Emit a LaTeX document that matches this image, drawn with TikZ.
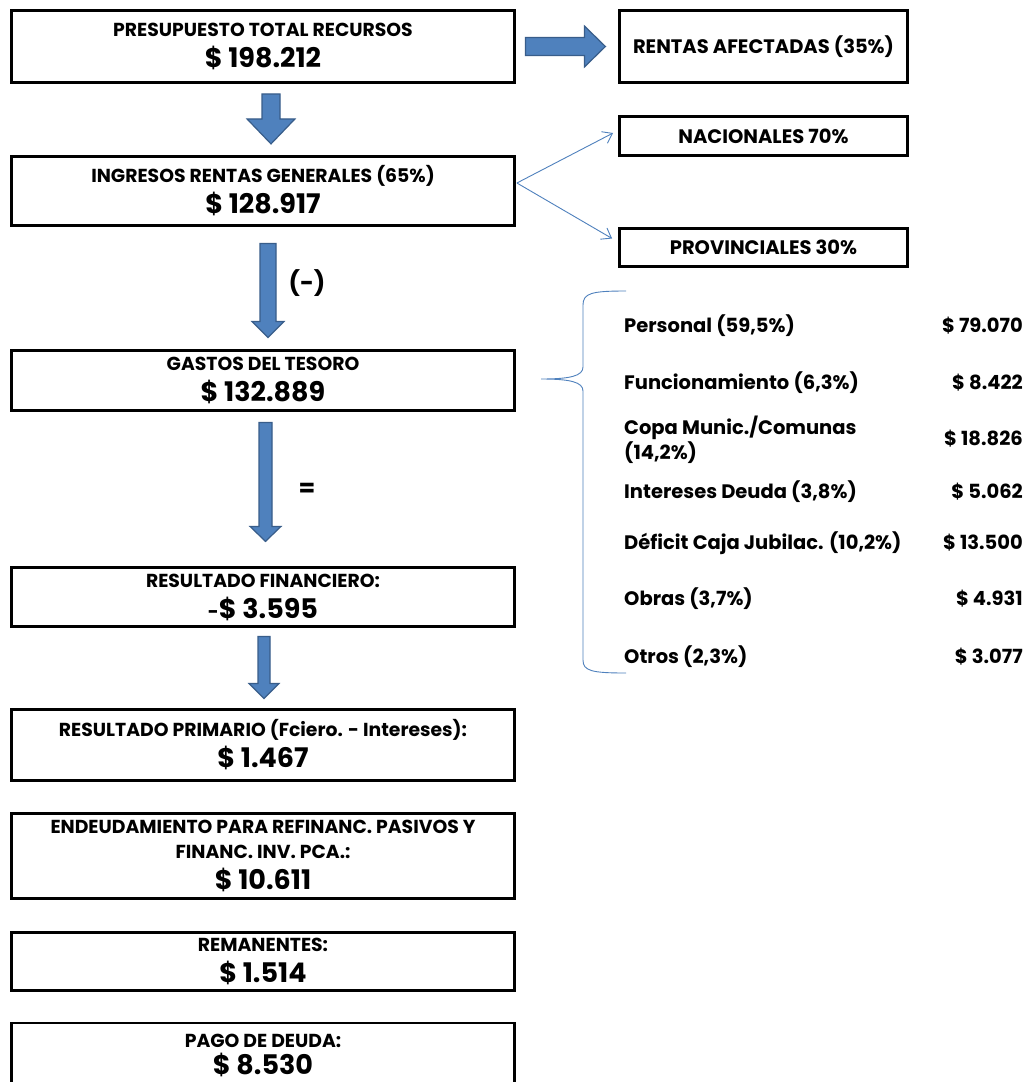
\documentclass[tikz,border=0pt]{standalone}
\usepackage{fontspec}
\setmainfont{Poppins}
\usetikzlibrary{positioning,calc,arrows.meta}
\definecolor{shaftblue}{HTML}{4F81BD}
\definecolor{shaftedge}{HTML}{385D8A}
\newcommand{\titlesize}{\fontsize{18.8}{31}\selectfont\bfseries}
\newcommand{\sidesize}{\fontsize{19.5}{25}\selectfont\bfseries}
\newcommand{\amount}[1]{{\fontsize{27}{31}\selectfont #1}}
% block arrow pointing down: top point, shaft half width, head half width, shaft length, head length
\newcommand{\downfat}[5]{%
  \draw[fat] #1 ++(-#2,0) -- ++(0,#4) -- ++(#2-#3,0) -- ++(#3,#5) -- ++(#3,-#5)
    -- ++(#2-#3,0) -- ++(0,-#4) -- cycle;}
\tikzset{
  box/.style={rectangle, draw=black, line width=2.8pt, minimum width=503pt, align=center, inner sep=0pt, font=\titlesize},
  sidebox/.style={rectangle, draw=black, line width=2.8pt, minimum width=288pt, align=center, inner sep=0pt, font=\sidesize},
  item/.style={anchor=west, align=left, inner sep=0pt, font=\sidesize},
  value/.style={anchor=east, inner sep=0pt, font=\sidesize},
  sign/.style={inner sep=0pt, font=\fontsize{24}{28}\selectfont\bfseries},
  fat/.style={fill=shaftblue, draw=shaftedge, line width=1.2pt},
  split/.style={draw=shaftblue, line width=0.9pt, -{Straight Barb[length=9pt,width=13pt]}},
  brace/.style={draw=shaftblue, line width=0.9pt}
}

\begin{document}
\begin{tikzpicture}[x=1pt, y=-1pt]
  \fill[white] (0,0) rectangle (1029,1082);
  \useasboundingbox (0,0) rectangle (1029,1082);

  \node[box, minimum height=72pt] (pres) at (263,46.5) {PRESUPUESTO TOTAL RECURSOS\\\amount{\$ 198.212}};
  \node[box, minimum height=69pt] (ingr) at (263,191) {INGRESOS RENTAS GENERALES (65\%)\\\amount{\$ 128.917}};
  \node[box, minimum height=60pt] (gastos) at (263,380.5) {GASTOS DEL TESORO\\\amount{\$ 132.889}};
  \node[box, minimum height=59pt] (resfin) at (263,597) {RESULTADO FINANCIERO:\\\amount{{\titlesize-}\$ 3.595}};
  \node[box, minimum height=71pt] (resprim) at (263,745) {RESULTADO PRIMARIO (Fciero. - Intereses):\\\amount{\$ 1.467}};
  \node[box, minimum height=85pt] (endeud) at (263,856) {ENDEUDAMIENTO PARA REFINANC. PASIVOS Y\\[-6pt]FINANC. INV. PCA.:\\\amount{\$ 10.611}};
  \node[box, minimum height=58pt] (reman) at (263,961.5) {REMANENTES:\\\amount{\$ 1.514}};
  \node[box, minimum height=65pt] (pago) at (263,1055.5) {PAGO DE DEUDA:\\[-4pt]\amount{\$ 8.530}};

  \node[sidebox, minimum height=72pt] (rentas) at (763.5,46.5) {RENTAS AFECTADAS (35\%)};
  \node[sidebox, minimum height=39pt] (nac) at (763.5,136) {NACIONALES 70\%};
  \node[sidebox, minimum height=38pt] (prov) at (763.5,247.5) {PROVINCIALES 30\%};

  \node[sign] (minus) at (307,283) {(-)};
  \node[sign] (equal) at (307,490) {=};

  % block arrows
  \coordinate (a1) at ($(pres.south)+(8,10)$);
  \coordinate (a2) at ($(ingr.south)+(5,16.5)$);
  \coordinate (a3) at ($(gastos.south)+(2.5,10.5)$);
  \coordinate (a4) at ($(resfin.south)+(1,8.5)$);
  \downfat{(a1)}{9}{24}{25}{25}
  \downfat{(a2)}{8}{16}{78}{16}
  \downfat{(a3)}{6.5}{15.5}{104}{15}
  \downfat{(a4)}{6}{15}{47}{15}
  \coordinate (r1) at ($(pres.east)+(9.5,0)$);
  \draw[fat] (r1) ++(0,-9) -- ++(59,0) -- ++(0,-11.5) -- ++(21,20.5) -- ++(-21,20.5)
    -- ++(0,-11.5) -- ++(-59,0) -- cycle;

  \coordinate (fork) at ($(ingr.east)+(1,-8)$);
  \draw[split] (fork) -- ($(nac.west)+(-5,-3)$);
  \draw[split] (fork) -- ($(prov.west)+(-6,-9)$);

  \node[item] (pers) at (624,326) {Personal (59,5\%)};
  \node[item] (func) at (624,383) {Funcionamiento (6,3\%)};
  \node[item] (copa) at (624,440) {Copa Munic./Comunas\\(14,2\%)};
  \node[item] (inte) at (624,492) {Intereses Deuda (3,8\%)};
  \node[item] (defi) at (624,543) {Déficit Caja Jubilac. (10,2\%)};
  \node[item] (obra) at (624,599) {Obras (3,7\%)};
  \node[item] (otro) at (624,657) {Otros (2,3\%)};
  \node[value] (persv) at (1023,326) {\$ 79.070};
  \node[value] (funcv) at (1023,383) {\$ 8.422};
  \node[value] (copav) at (1023,439) {\$ 18.826};
  \node[value] (intev) at (1023,492) {\$ 5.062};
  \node[value] (defiv) at (1023,543) {\$ 13.500};
  \node[value] (obrav) at (1023,599) {\$ 4.931};
  \node[value] (otrov) at (1023,657) {\$ 3.077};

  % the brace
  \draw[brace] (626,291) .. controls (592,291) and (583,293) .. (583,305) -- (583,367)
    .. controls (583,376) and (570,379) .. (541,379)
    .. controls (570,379) and (583,382) .. (583,391) -- (583,660)
    .. controls (583,671) and (592,673) .. (626,673);
\end{tikzpicture}
\end{document}
